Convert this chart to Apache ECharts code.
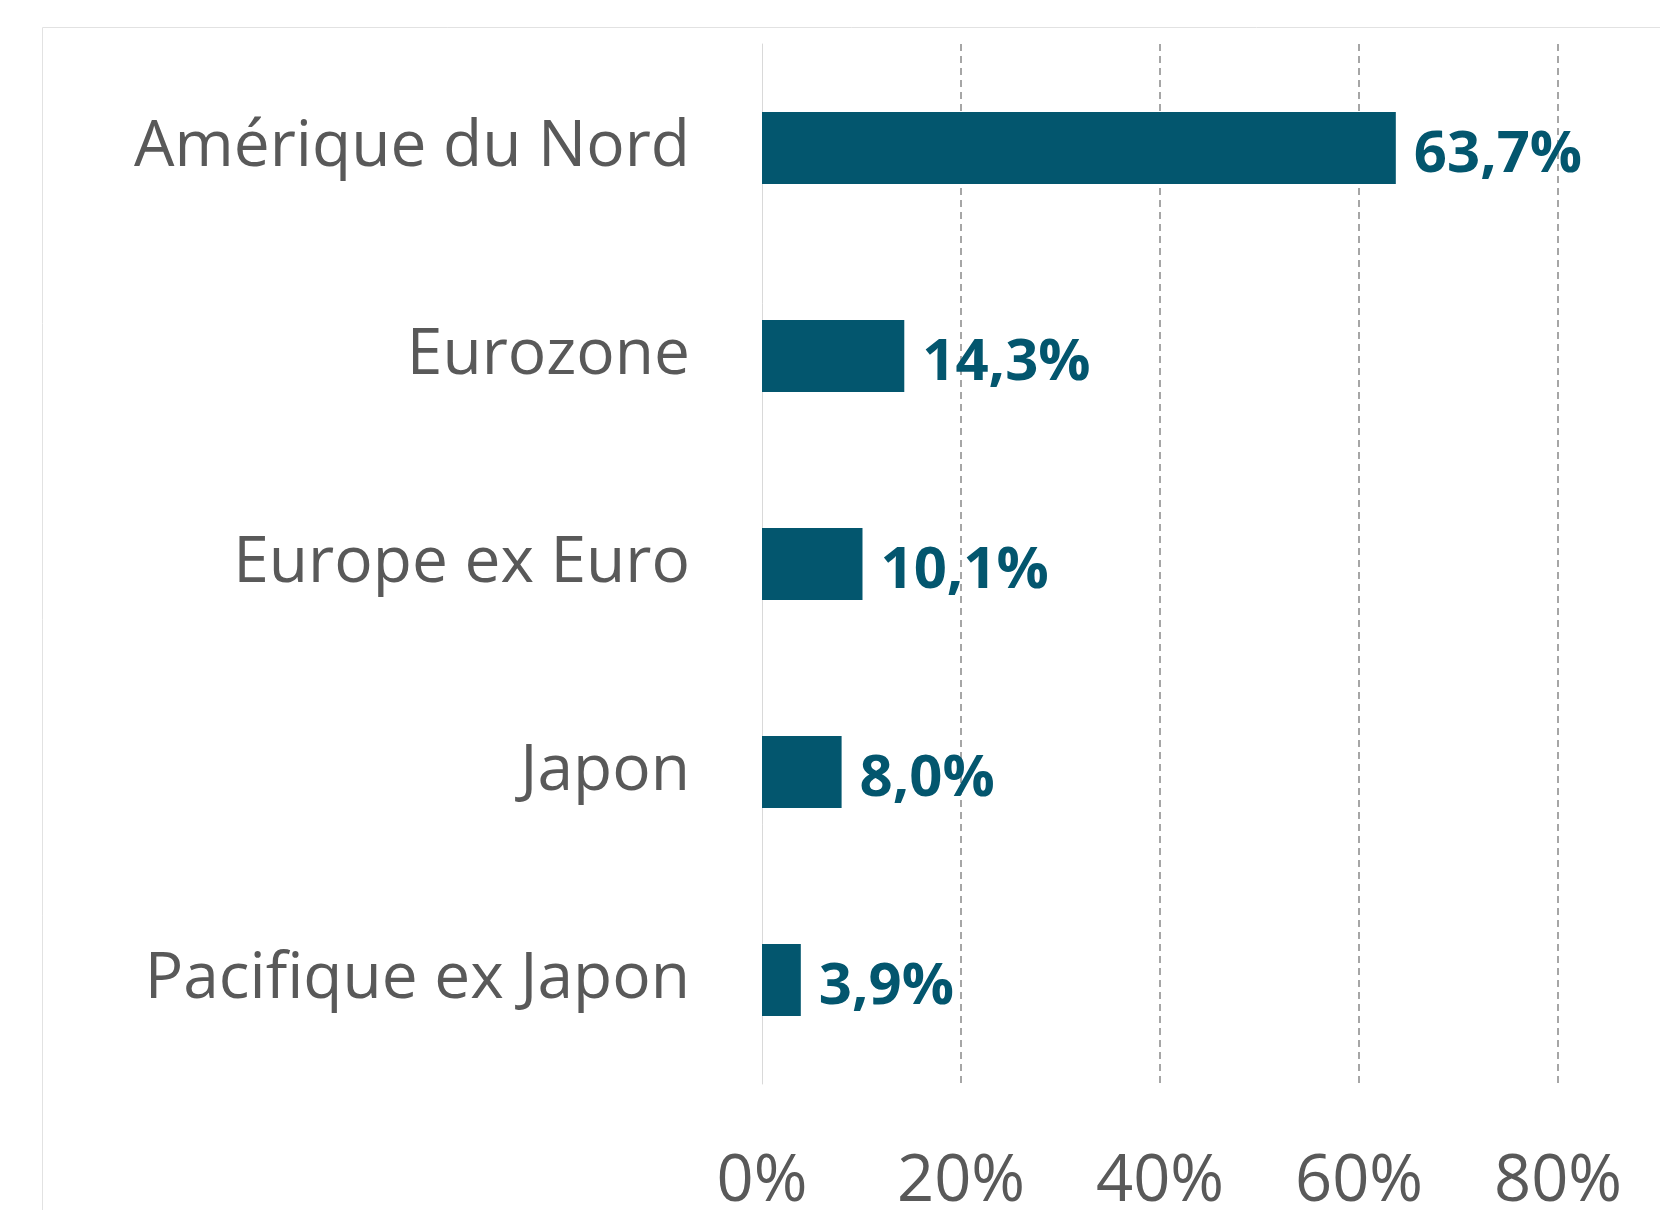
<!DOCTYPE html>
<html>
<head>
<meta charset="utf-8">
<script src="https://cdn.jsdelivr.net/npm/echarts@6/dist/echarts.min.js"></script>
<style>
    html, body { margin: 0; padding: 0; background: #fff; }
    #chart { width: 1660px; height: 1210px; }
</style>
</head>
<body>
<div id="chart"></div>
<script>
// régions et pondérations
const regions = ['Amérique du Nord', 'Eurozone', 'Europe ex Euro', 'Japon', 'Pacifique ex Japon'];
const weights = [63.7, 14.3, 10.1, 8.0, 3.9];
const axisTicks = [0, 20, 40, 60, 80];

const barColor = '#03566E';
const textGrey = '#595959';

let chart = echarts.init(document.getElementById('chart'));
let option = {
    backgroundColor: '#fff',
    animation: false,
    graphic: [
        {
            // cadre gris clair
            type: 'rect',
            shape: { x: 42.5, y: 27.5, width: 1700, height: 1300 },
            style: { fill: 'none', stroke: '#e2e2e2', lineWidth: 1 },
            silent: true
        }
    ],
    grid: {
        left: 762,
        right: 102,
        top: 44,
        bottom: 126,
        outerBoundsMode: 'none'
    },
    xAxis: {
        type: 'value',
        min: axisTicks[0],
        max: axisTicks[axisTicks.length - 1],
        interval: 20,
        axisLine: { show: false },
        axisTick: { show: false },
        axisLabel: {
            formatter: v => v + '%',
            fontFamily: 'Open Sans',
            fontSize: 65,
            color: textGrey,
            margin: 66
        },
        splitLine: {
            show: true,
            showMinLine: false,
            lineStyle: { color: '#a6a6a6', type: [7, 5], width: 2 }
        }
    },
    yAxis: {
        type: 'category',
        inverse: true,
        data: regions,
        axisLine: { show: true, lineStyle: { color: '#d9d9d9', width: 1 } },
        axisTick: { show: false },
        axisLabel: {
            fontFamily: 'Open Sans',
            fontSize: 64,
            color: textGrey,
            margin: 72,
            padding: [16, 0, 0, 0]
        }
    },
    series: [
        {
            type: 'bar',
            data: weights,
            barWidth: 72,
            itemStyle: { color: barColor },
            label: {
                show: true,
                position: 'right',
                distance: 18,
                offset: [0, 7],
                formatter: p => p.value.toFixed(1).replace('.', ',') + '%',
                fontFamily: 'Open Sans',
                fontWeight: 'bold',
                fontSize: 58,
                color: barColor
            }
        }
    ]
};
option && chart.setOption(option);
</script>
</body>
</html>
